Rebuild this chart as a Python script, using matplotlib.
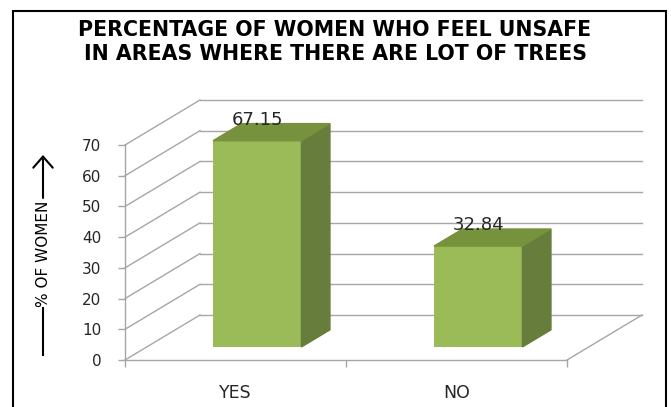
"""Excel 風の 3D 棒グラフ (木の多い場所で不安を感じる女性の割合) を再現する。"""

from __future__ import annotations

import matplotlib

matplotlib.use("Agg")
import matplotlib.pyplot as plt
from matplotlib.patches import Polygon, Rectangle

CATEGORIES = ["YES", "NO"]
PERCENTAGES = [67.15, 32.84]
VALUE_LABELS = ["67.15", "32.84"]
Y_TICKS = [0, 10, 20, 30, 40, 50, 60, 70]
TITLE_LINES = [
    "PERCENTAGE OF WOMEN WHO FEEL UNSAFE",
    "IN AREAS WHERE THERE ARE LOT OF TREES",
]
Y_LABEL = "% OF WOMEN"

FIG_W, FIG_H, DPI = 671, 407, 100
GRID_COLOR = "#A6A6A6"
FRONT_COLOR = "#9BBB59"
SIDE_COLOR = "#677D3B"
TOP_COLOR = "#76923C"
TEXT_COLOR = "#262626"

# 奥行き (pixel) と棒の前後位置 (床の奥行きに対する比率)
DEPTH_PX = (75, 45)
BAR_FRONT, BAR_BACK = 0.29, 0.67
BAR_WIDTH = 0.4


def px(x: float, y_img: float) -> tuple[float, float]:
    """画像座標 (左上原点) を figure 比率へ変換する。"""
    return x / FIG_W, 1 - y_img / FIG_H


def main() -> None:
    fig = plt.figure(figsize=(FIG_W / DPI, FIG_H / DPI), dpi=DPI)
    left, bottom = px(125, 360)
    right, top = px(567, 145)
    ax = fig.add_axes([left, bottom, right - left, top - bottom])
    n = len(CATEGORIES)
    ax.set_xlim(-0.5, n - 0.5)
    ax.set_ylim(Y_TICKS[0], Y_TICKS[-1])

    # 奥行きベクトルをデータ単位へ
    dx = DEPTH_PX[0] / (ax.bbox.width / n)
    dy = DEPTH_PX[1] / (ax.bbox.height / (Y_TICKS[-1] - Y_TICKS[0]))
    x0, x1 = -0.5, n - 0.5

    line_kw = dict(color=GRID_COLOR, lw=1.0, clip_on=False, zorder=1)
    for v in Y_TICKS:
        ax.plot([x0 + dx, x1 + dx], [v + dy, v + dy], **line_kw)
        ax.plot([x0, x0 + dx], [v, v + dy], **line_kw)
    ax.plot([x1, x1 + dx], [0, dy], **line_kw)

    xs = list(range(n))
    fx, fy = BAR_FRONT * dx, BAR_FRONT * dy
    bx, by = BAR_BACK * dx, BAR_BACK * dy
    ax.bar(
        [x + fx for x in xs],
        PERCENTAGES,
        width=BAR_WIDTH,
        bottom=fy,
        color=FRONT_COLOR,
        clip_on=False,
        zorder=3,
    )
    for x, v, label in zip(xs, PERCENTAGES, VALUE_LABELS):
        xl, xr = x - BAR_WIDTH / 2, x + BAR_WIDTH / 2
        side = [(xr + fx, fy), (xr + bx, by), (xr + bx, v + by), (xr + fx, v + fy)]
        roof = [(xl + fx, v + fy), (xl + bx, v + by), (xr + bx, v + by), (xr + fx, v + fy)]
        ax.add_patch(Polygon(side, closed=True, color=SIDE_COLOR, clip_on=False, zorder=3))
        ax.add_patch(Polygon(roof, closed=True, color=TOP_COLOR, clip_on=False, zorder=3))
        ax.annotate(
            label,
            (x + fx, v + fy),
            xytext=(0, 15),
            textcoords="offset points",
            ha="center",
            va="center",
            fontsize=13,
            color=TEXT_COLOR,
            zorder=5,
            annotation_clip=False,
        )

    for name in ("top", "right"):
        ax.spines[name].set_visible(False)
    for name in ("left", "bottom"):
        ax.spines[name].set_color(GRID_COLOR)
        ax.spines[name].set_linewidth(1.0)
    ax.patch.set_visible(False)

    ax.set_yticks(Y_TICKS)
    ax.tick_params(axis="y", direction="out", length=5, width=1.0, color=GRID_COLOR,
                   labelsize=11, labelcolor=TEXT_COLOR, pad=12)
    ax.set_xticks(xs)
    ax.set_xticklabels(CATEGORIES)
    ax.set_xticks([x0 + i for i in range(n + 1)], minor=True)
    ax.tick_params(axis="x", which="major", length=0, labelsize=12.5,
                   labelcolor=TEXT_COLOR, pad=17)
    ax.tick_params(axis="x", which="minor", direction="out", length=5, width=1.0,
                   color=GRID_COLOR)

    # タイトル
    tx, ty = px(335, 42)
    fig.text(tx, ty, "\n".join(TITLE_LINES), ha="center", va="center",
             fontsize=14.8, fontweight="bold", color="black", linespacing=1.3)

    # 縦軸ラベルと矢印
    lx, ly = px(43, 254)
    fig.text(lx, ly, Y_LABEL, rotation=90, ha="center", va="center",
             fontsize=11, family=["Liberation Sans Narrow", "DejaVu Sans"], color="black")
    fig.add_artist(plt.Line2D(*zip(px(43, 355), px(43, 308)), color="black", lw=1.5,
                              transform=fig.transFigure))
    ax.annotate("", xy=px(43, 155), xytext=px(43, 198), xycoords="figure fraction",
                textcoords="figure fraction", annotation_clip=False,
                arrowprops=dict(arrowstyle="->,head_length=0.4,head_width=0.35",
                                lw=1.5, color="black", mutation_scale=20,
                                shrinkA=0, shrinkB=0))

    # 外枠
    bl = px(13, FIG_H + 20)
    tr = px(666, 11)
    fig.add_artist(Rectangle(bl, tr[0] - bl[0], tr[1] - bl[1], fill=False,
                             lw=1.5, edgecolor="black", transform=fig.transFigure))

    fig.savefig("out.png", dpi=DPI)
    plt.close(fig)


if __name__ == "__main__":
    main()
